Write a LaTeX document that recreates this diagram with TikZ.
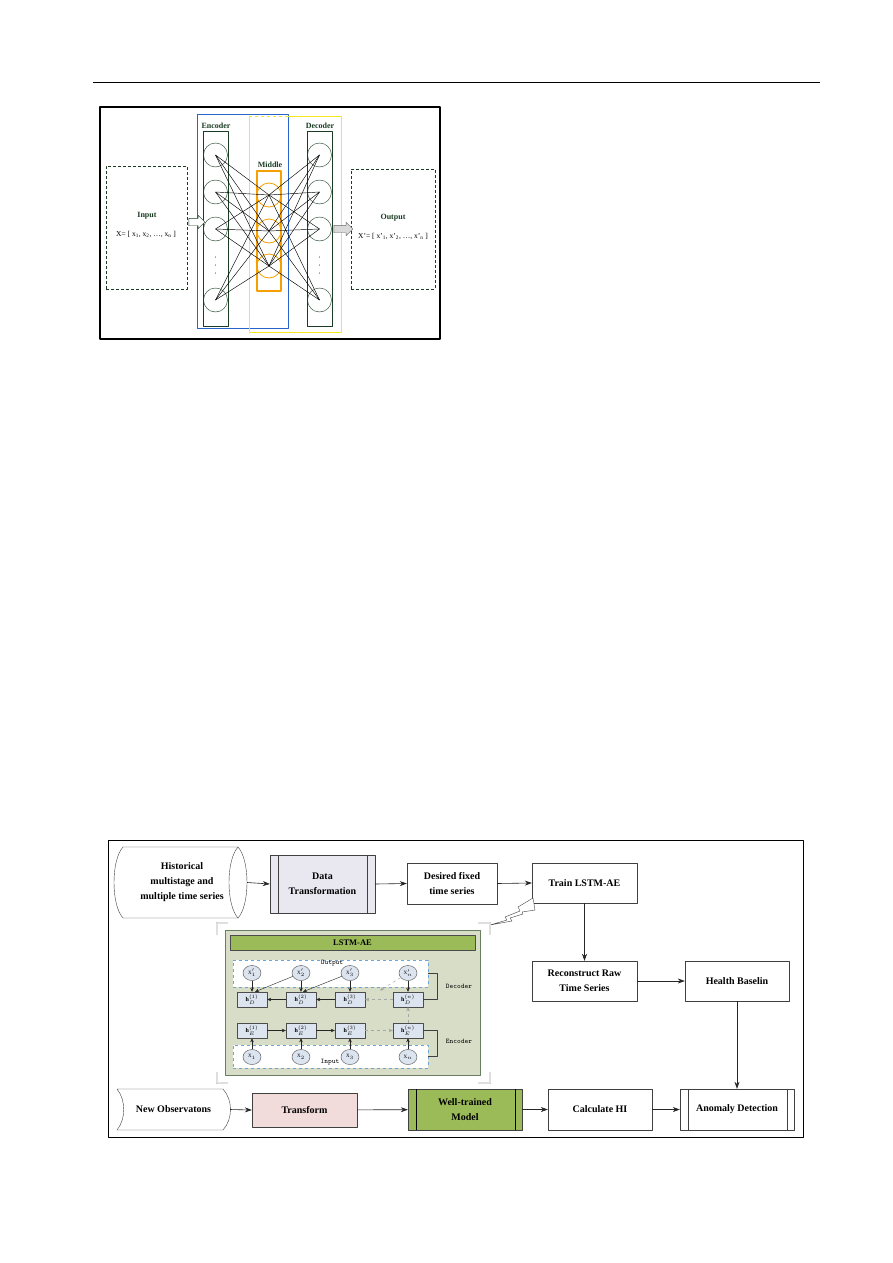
\documentclass[tikz,border=0pt]{standalone}
\usepackage{fontspec}
\setmainfont{Liberation Serif}
\usetikzlibrary{arrows.meta,shapes.arrows,shapes.geometric,positioning,calc}
\definecolor{dkgreen}{RGB}{25,60,35}
\definecolor{encblue}{RGB}{40,100,200}
\definecolor{midyel}{RGB}{245,232,30}
\definecolor{midorange}{RGB}{245,160,0}
\definecolor{lavender}{RGB}{233,231,240}
\definecolor{pinkfill}{RGB}{242,220,219}
\definecolor{olive}{RGB}{155,187,89}
\definecolor{panelgreen}{RGB}{215,221,199}
\definecolor{pnlborder}{RGB}{105,125,95}
\definecolor{cellblue}{RGB}{220,228,240}
\definecolor{dashblue}{RGB}{110,165,215}
\tikzset{
  iobox/.style={draw=dkgreen,densely dashed},
  grnlbl/.style={text=dkgreen,font=\bfseries\fontsize{8}{9}\selectfont,inner sep=0},
  frm/.style={font=\fontsize{7.5}{9}\selectfont,inner sep=0},
  neuron/.style={circle,draw=dkgreen,minimum size=24,inner sep=0},
  fbox/.style={draw=black!75,align=center,inner sep=1pt,font=\bfseries\fontsize{10}{15}\selectfont},
  cell/.style={draw=black!70,fill=cellblue,minimum width=30,minimum height=15,inner sep=0,font=\bfseries\fontsize{6}{7}\selectfont},
  xcirc/.style={ellipse,draw=black!70,fill=cellblue,minimum width=18,minimum height=15,inner sep=0,font=\fontsize{5}{6}\selectfont},
  region/.style={draw=dashblue,dashed,line width=0.9pt,fill=white,minimum width=195},
  tlbl/.style={font=\ttfamily\fontsize{7}{8}\selectfont,inner sep=0},
  sarr/.style={-{Stealth[length=4pt,width=3.5pt]},black!85},
  darr/.style={sarr,dashed,gray!70},
  brk/.style={draw=black!70,double=gray!25,double distance=1.5pt,line width=0.6pt}
}
\begin{document}
\begin{tikzpicture}[x=1pt,y=-1pt,>={Stealth[length=7pt,width=5pt]},line join=round]
\useasboundingbox (0,0) rectangle (893,1263);
\fill[white] (0,0) rectangle (893,1263);
\draw[line width=0.8pt] (93,82) -- (820,82);
% autoencoder
\draw[line width=1.1pt] (100,107) rectangle (440,339);
\node[iobox,minimum width=81,minimum height=123] (inbox) at (146.5,227.5) {};
\node[iobox,minimum width=84,minimum height=120] (outbox) at (393,229) {};
\node[grnlbl] at (147,216) {Input};
\node[frm] at (146,234) {X= [ x\textsubscript{1}, x\textsubscript{2}, \dots, x\textsubscript{n} ]};
\node[grnlbl] at (393,218) {Output};
\node[frm] at (393,236) {X'= [ x'\textsubscript{1}, x'\textsubscript{2}, \dots, x'\textsubscript{n} ]};
\draw[encblue,line width=0.9pt] (197,114) rectangle (288,328);
\draw[midyel,line width=0.9pt] (288,116) -- (341,116) -- (341,332) -- (249,332) -- (249,116);
\draw[midyel,line width=0.9pt,dashed] (249,116) -- (288,116);
\draw[dkgreen] (203,131) rectangle (228,326);
\draw[dkgreen] (307,131) rectangle (332,326);
\node[grnlbl] at (216,126) {Encoder};
\node[grnlbl] at (320,126) {Decoder};
\node[grnlbl] at (270,165) {Middle};
\foreach \i/\y in {1/155,2/192,3/229,4/300}{
  \node[neuron] (en\i) at (215.5,\y) {};
  \node[neuron] (de\i) at (319.5,\y) {};
}
\foreach \j/\y in {1/195,2/231,3/266}
  \node[neuron,draw=midorange,line width=0.8pt] (mi\j) at (269,\y) {};
\draw[midorange,line width=1.3pt] (257,171) rectangle (281,291);
\foreach \i in {1,...,4}
  \foreach \j in {1,2,3}
    \draw[line width=0.45pt] (en\i.center) -- (mi\j.center) -- (de\i.center);
\foreach \x in {215.5,319.5}
  \foreach \y in {257,265,273}
    \fill (\x,\y) circle (0.5);
\node[single arrow,draw=dkgreen,fill=white,minimum height=16,inner sep=3.5,single arrow head extend=3] (inarr) at (195,222) {};
\node[single arrow,draw=black!60,fill=black!15,minimum height=19,inner sep=3.5,single arrow head extend=3] (outarr) at (341.5,229) {};
% LSTM-AE flow
\draw[line width=1pt] (108,840) rectangle (803,1137);
\node[fbox,draw=none,minimum width=130,minimum height=71] (hist) at (182,882.5) {Historical\\multistage and\\multiple time series};
\draw[black!75] (123,847) -- (238,847) .. controls (250,860) and (250,905) .. (238,918) -- (123,918) .. controls (111,905) and (111,860) .. (123,847);
\draw[black!75] (238,847) .. controls (226,860) and (226,905) .. (238,918);
\node[fbox,fill=lavender,minimum width=105,minimum height=58] (trans) at (322.5,884) {Data\\Transformation};
\draw[black!75] ([xshift=8]trans.north west) -- ([xshift=8]trans.south west) ([xshift=-8]trans.north east) -- ([xshift=-8]trans.south east);
\node[fbox,minimum width=90,minimum height=41] (desired) at (452,883.5) {Desired fixed\\time series};
\node[fbox,minimum width=105,minimum height=40] (train) at (584.5,883) {Train LSTM-AE};
\node[fbox,minimum width=105,minimum height=40] (recon) at (584.5,981) {Reconstruct Raw\\Time Series};
\node[fbox,minimum width=104,minimum height=40] (health) at (737,981) {Health Baselin};
\node[fbox,draw=none,minimum width=113,minimum height=41] (newobs) at (173.5,1109.5) {New Observatons};
\draw[black!75] (117,1089) -- (223,1089) .. controls (233,1100) and (233,1119) .. (223,1130) -- (117,1130) .. controls (126,1119) and (126,1100) .. (117,1089);
\node[fbox,fill=pinkfill,minimum width=105,minimum height=34] (transf) at (304.5,1110) {Transform};
\node[fbox,fill=olive,minimum width=114,minimum height=41] (model) at (465,1109.5) {Well-trained\\Model};
\draw[black,line width=0.8pt] ([xshift=9]model.north west) -- ([xshift=9]model.south west) ([xshift=-7]model.north east) -- ([xshift=-7]model.south east);
\node[fbox,minimum width=104,minimum height=41] (calc) at (600,1109.5) {Calculate HI};
\node[fbox,minimum width=114,minimum height=41] (anom) at (737,1109.5) {Anomaly Detection};
\draw[black!75] ([xshift=8]anom.north west) -- ([xshift=8]anom.south west) ([xshift=-7]anom.north east) -- ([xshift=-7]anom.south east);
\draw[->,black!85,line width=0.6pt] (hist.east) -- (trans.west);
\draw[->,black!85,line width=0.6pt] (trans.east) -- (desired.west);
\draw[->,black!85,line width=0.6pt] (desired.east) -- (train.west);
\draw[->,black!85,line width=0.6pt] (train) -- (recon);
\draw[->,black!85,line width=0.6pt] (recon) -- (health);
\draw[->,black!85,line width=0.6pt] (health) -- (anom);
\draw[->,black!85,line width=0.6pt] (newobs.east) -- (transf.west);
\draw[->,black!85,line width=0.6pt] (transf) -- (model);
\draw[->,black!85,line width=0.6pt] (model) -- (calc);
\draw[->,black!85,line width=0.6pt] (calc) -- (anom);
% zigzag and corners
\draw[black!75,fill=white] (533,898) -- (518,907) -- (520,911) -- (505,917) -- (507,920) -- (490,925) -- (512,921) -- (510,918) -- (523,914) -- (522,912) -- (535,910) -- cycle;
\draw[brk] (217,935) |- (228,923);
\draw[brk] (478,923) -| (490,935);
\draw[brk] (217,1072) |- (228,1083);
\draw[brk] (478,1083) -| (490,1072);
% LSTM-AE panel
\node[draw=pnlborder,fill=panelgreen,minimum width=255,minimum height=145] (ae) at (352.5,1002.5) {};
\node[draw=black!70,fill=olive,minimum width=245,minimum height=15,inner sep=0,font=\bfseries\fontsize{8.5}{9}\selectfont] (aetitle) at (352.5,942.5) {LSTM-AE};
\node[region,minimum height=27] (outreg) at (330.5,973.5) {};
\node[region,minimum height=23] (inreg) at (330.5,1056.5) {};
\node[tlbl] at (332,963.5) {Output};
\node[tlbl] at (330,1062) {Input};
\node[tlbl] at (459,986) {Decoder};
\node[tlbl] at (459,1041) {Encoder};
\foreach \i/\x/\n in {1/252/1,2/301/2,3/350/3,4/408/n}{
  \node[cell] (hd\i) at (\x,999.5) {h$_D^{(\n)}$};
  \node[cell] (he\i) at (\x,1030.5) {h$_E^{(\n)}$};
  \node[xcirc] (xo\i) at (\x,973) {X$'_\n$};
  \node[xcirc] (xi\i) at (\x,1057) {X$_\n$};
  \draw[sarr] (xo\i) -- (hd\i);
  \draw[sarr] (xi\i) -- (he\i);
}
\draw[sarr] (hd2) -- (hd1);
\draw[sarr] (hd3) -- (hd2);
\draw[darr] (hd4) -- (hd3);
\draw[sarr] (he1) -- (he2);
\draw[sarr] (he2) -- (he3);
\draw[darr] (he3) -- (he4);
\draw[darr] (he4) -- (hd4);
\draw[sarr] (xo2) -- ([xshift=3]hd1.north);
\draw[sarr] (xo3) -- ([xshift=2]hd2.north);
\coordinate (fb) at (380,990.5);
\draw[darr] (xo4) -- (fb);
\draw[black!75] (outreg.east) -- ++(9,0) |- (hd4.east);
\draw[black!75] (he4.east) -- ++(14,0) |- (inreg.east);
\end{tikzpicture}
\end{document}
